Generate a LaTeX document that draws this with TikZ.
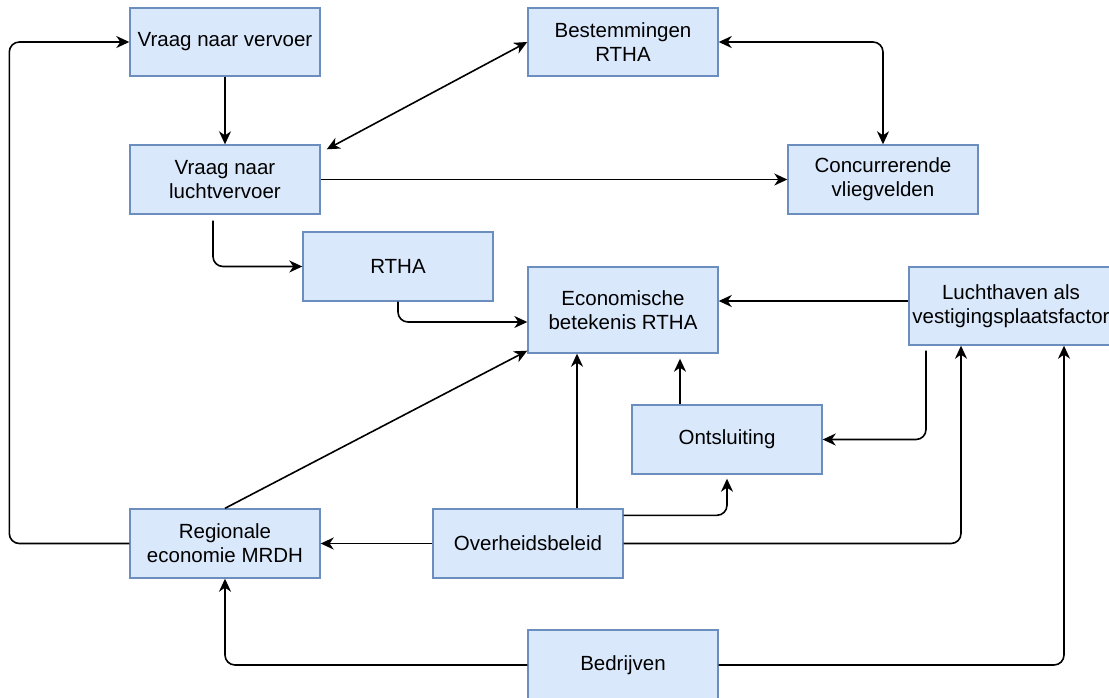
\documentclass[tikz,border=0pt]{standalone}
\usepackage{fontspec}
\setmainfont{Liberation Sans}
\usetikzlibrary{arrows.meta,calc}
\definecolor{boxfill}{HTML}{DAE8FC}
\definecolor{boxdraw}{HTML}{6C8EBF}
\tikzset{
  box/.style={draw=boxdraw, fill=boxfill, line width=1.4pt, rectangle, inner sep=0pt,
    minimum width=190pt, minimum height=69pt, align=center,
    font=\fontsize{20.5}{24}\selectfont},
  conn/.style={line width=1.6pt, draw=black, rounded corners=10pt},
  tip/.style={},
  arr/.style={conn, -{Stealth[length=13pt,width=12pt,inset=4pt]}},
  dblarr/.style={conn, {Stealth[length=13pt,width=12pt,inset=4pt]}-{Stealth[length=13pt,width=12pt,inset=4pt]}}
}
\begin{document}
\begin{tikzpicture}[x=1pt,y=-1pt]
\useasboundingbox (0,0) rectangle (1109,697);
\clip (0,0) rectangle (1109,697);
\node[box, minimum height=68pt] (vv) at (225,42) {Vraag naar vervoer};
\node[box] (vl) at (225,179.5) {Vraag naar\\luchtvervoer};
\node[box, minimum height=68pt] (best) at (623,42) {Bestemmingen\\RTHA};
\node[box] (conc) at (883,179.5) {Concurrerende\\vliegvelden};
\node[box] (rtha) at (398,266.5) {RTHA};
\node[box, minimum height=86pt] (eco) at (623,310) {Economische\\betekenis RTHA};
\node[box, minimum width=204pt, minimum height=78pt] (lucht) at (1011,306) {Luchthaven als\\vestigingsplaatsfactor};
\node[box] (ont) at (727,439.5) {Ontsluiting};
\node[box] (reg) at (225,543.5) {Regionale\\economie MRDH};
\node[box] (over) at (528,543.5) {Overheidsbeleid};
\node[box, minimum height=70pt] (bed) at (623,665) {Bedrijven};

\draw[arr] (vv.south) -- (vl.north);
\draw[arr] (reg.west) -- ++(-120,0) |- (vv.west);
\draw[dblarr] ($(vl.north east)+(6,5)$) -- (best.west);
\draw[arr] (vl.east) -- (conc.west);
\draw[dblarr] (best.east) -| (conc.north);
\draw[arr] ($(vl.south)+(-12,6)$) |- (rtha.west);
\draw[arr] (rtha.south) |- ($(eco.west)+(0,12)$);
\draw[arr] ($(lucht.west)+(0,-5)$) -- ($(eco.east)+(0,-9)$);
\draw[arr] ($(lucht.south)+(-85,5)$) |- (ont.east);
\draw[arr] ($(ont.north)+(-47,0)$) -- ($(ont.north |- eco.south)+(-47,5)$);
\draw[arr] (reg.north) -- ($(eco.south west)+(0,-3)$);
\draw[arr] ($(over.north)+(49,0)$) -- ($(over.north |- eco.south)+(49,0)$);
\draw[arr] ($(over.north east)+(0,7)$) -| ($(ont.south)+(0,4)$);
\draw[arr] (over.west) -- (reg.east);
\draw[arr] (over.east) -| ($(lucht.south)+(-50,0)$);
\draw[arr] (bed.west) -| (reg.south);
\draw[arr] (bed.east) -| ($(lucht.south)+(53,0)$);
\end{tikzpicture}
\end{document}
